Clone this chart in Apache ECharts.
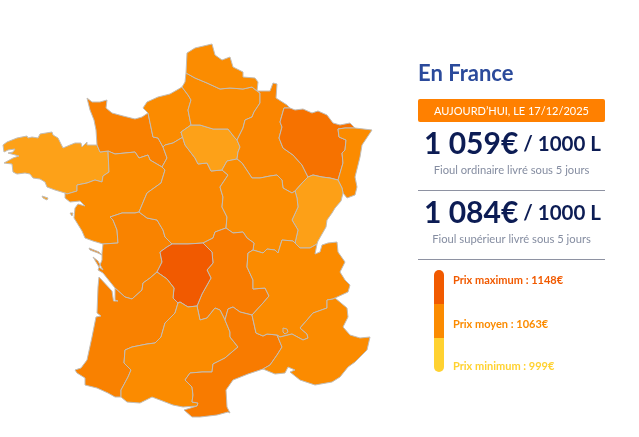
<!DOCTYPE html>
<html>
<head>
<meta charset="utf-8">
<title>Prix du fioul en France</title>
<script src="https://cdn.jsdelivr.net/npm/echarts@6/dist/echarts.min.js"></script>
<style>
  html, body { margin: 0; padding: 0; background: #fff; }
  #main { width: 639px; height: 437px; }
</style>
</head>
<body>
<div id="main"></div>
<script>
// regions and the price read for each one
const regionNames = ['Bretagne', 'Basse-Normandie', 'Haute-Normandie', 'Pays de la Loire', 'Poitou-Charentes', 'Centre',
  'Ile-de-France', 'Picardie', 'Nord-Pas-de-Calais', 'Champagne-Ardenne', 'Lorraine', 'Alsace', 'Franche-Comte',
  'Bourgogne', 'Auvergne', 'Limousin', 'Aquitaine', 'Midi-Pyrenees', 'Languedoc-Roussillon', 'Rhone-Alpes', 'PACA']
const regionPrices = [999, 1090, 1073, 1073, 1085, 1080,
  1000, 1073, 1070, 1082, 1112, 1073, 1001,
  1070, 1098, 1148, 1088, 1073, 1098, 1072, 1072]

const priceMin = 999
const priceMax = 1148
const priceColors = ['#FDA118', '#FB8B00', '#F15A00']

const today = "AUJOURD\u2019HUI, LE 17/12/2025"
const ordinaryPrice = '1 059\u20AC'
const superiorPrice = '1 084\u20AC'
const perVolume = ' / 1000 L'
const ordinaryLabel = 'Fioul ordinaire livré sous 5 jours'
const superiorLabel = 'Fioul supérieur livré sous 5 jours'
const legendLabels = ['Prix maximum : 1148\u20AC', 'Prix moyen : 1063\u20AC', 'Prix minimum : 999\u20AC']
const legendColors = ['#F15A00', '#FB8B00', '#FFD231']

// map outline, cut in shared borders so neighbours line up (map units)
const coastBre = [[97,145],[87,145],[87,142],[82,147],[81,143],[75,143],[70,145],[63,148],[58,138],[53,135],[52,132],[40,134],[38,138],[32,137],[28,138],[27,136],[17,138],[7,142],[3,145],[4,152],[8,150],[15,149],[13,152],[8,153],[19,156],[13,158],[4,163],[12,164],[13,172],[17,174],[25,173],[30,174],[33,178],[40,179],[45,182],[47,187],[55,190],[65,193]]
const brePdl = [[65,193],[67,194],[77,191],[77,185],[87,183],[95,180],[102,182],[103,176],[109,172],[108,151]]
const breBn = [[108,151],[100,152],[97,145]]
const coastBn = [[97,145],[96,130],[94,120],[90,110],[87,98],[92,102],[100,102],[107,100],[106,108],[112,113],[123,116],[135,119],[142,117],[148,113]]
const hnBn = [[148,113],[153,137],[158,138],[163,147]]
const bnCentre = [[163,147],[167,158],[162,167]]
const pdlBn = [[108,151],[115,154],[135,152],[139,158],[148,155],[150,160],[162,167]]
const coastHn = [[148,113],[143,108],[147,102],[158,97],[170,94],[177,90],[182,87]]
const hnPic = [[182,87],[188,95],[191,100],[188,110],[191,125]]
const hnIdf = [[191,125],[181,132]]
const hnCentre = [[181,132],[183,137],[173,143],[165,145],[163,147]]
const coastPdl = [[65,193],[65,198],[70,202],[80,201],[85,206],[78,204],[75,208],[74,218],[82,231],[85,238],[93,241],[103,244]]
const pdlPoitou = [[139,212],[135,213],[122,213],[110,217],[113,220],[117,230],[118,243],[103,244]]
const pdlCentre = [[162,167],[165,170],[161,183],[147,193],[139,212]]
const coastPoitou = [[103,244],[102,253],[102,260],[98,270],[103,273],[115,288]]
const poitouAq = [[157,272],[150,278],[143,283],[142,290],[132,299],[125,297],[115,288]]
const poitouLim = [[172,244],[167,247],[160,252],[162,262],[157,272]]
const poitouCentre = [[139,212],[147,218],[157,220],[163,230],[165,237],[172,244]]
const limTop = [[172,244],[188,244],[203,243]]
const centreAuv = [[203,243],[213,238],[215,232],[226,228]]
const bourgCentre = [[222,170],[228,175],[220,187],[223,197],[222,207],[227,217],[226,228]]
const idfCentre = [[181,132],[185,145],[195,158],[198,164],[207,163],[211,171],[222,170]]
const idfBourg = [[222,170],[227,161],[237,159]]
const champIdf = [[237,140],[240,147],[238,152],[237,159]]
const picIdf = [[191,125],[200,125],[213,129],[228,129],[235,138],[237,140]]
const coastPic = [[186,73],[185,82],[182,87]]
const picChamp = [[257,91],[260,93],[260,103],[254,112],[252,117],[245,120],[243,128],[237,140]]
const npcPic = [[186,73],[195,78],[207,83],[220,89],[230,88],[243,89],[252,87],[257,91]]
const coastNpc = [[186,73],[187,53],[195,48],[212,44],[215,55],[222,60],[230,57],[233,67],[243,72],[243,77],[255,78],[258,82],[257,91]]
const champBourg = [[237,159],[242,163],[252,178],[260,178],[270,176],[277,175],[282,180],[283,188],[292,193],[295,191]]
const champFc = [[295,191],[303,182],[308,177]]
const champLor = [[308,177],[302,165],[293,155],[283,148],[279,138],[282,127],[280,122],[284,108],[290,108]]
const champNorth = [[257,91],[270,91],[273,83],[277,84],[276,98],[287,105],[290,108]]
const lorFc = [[308,177],[313,175],[322,177],[330,178],[338,180]]
const lorAls = [[355,128],[345,128],[338,129],[339,137],[346,140],[345,150],[342,153],[343,163],[338,180]]
const lorNorth = [[290,108],[295,110],[303,109],[312,113],[318,111],[327,115],[333,123],[340,125],[350,123],[355,128]]
const alsFc = [[338,180],[342,188],[343,193]]
const coastAls = [[343,193],[347,198],[355,195],[357,187],[355,177],[360,157],[362,145],[372,130],[355,128]]
const eastFc = [[343,193],[341,201],[335,208],[332,213],[327,220],[326,227],[318,241],[317,244]]
const fcRa = [[295,243],[300,248],[310,248],[317,244]]
const bourgFc = [[295,191],[297,198],[298,207],[292,220],[298,230],[295,243]]
const bourgRa = [[253,250],[263,253],[267,249],[275,250],[278,253],[282,240],[293,241],[295,243]]
const bourgAuv = [[226,228],[233,233],[243,232],[247,238],[254,243],[253,250]]
const auvRa = [[253,250],[248,253],[247,267],[253,280],[253,289],[265,288],[269,296],[263,303],[252,315]]
const auvLr = [[252,315],[240,312],[233,307],[228,309],[225,320]]
const auvMp = [[197,306],[200,320],[207,318],[215,308],[220,310],[225,320]]
const limAuv = [[203,243],[212,252],[213,263],[207,270],[211,278],[202,294],[197,306]]
const limMp = [[197,306],[188,307],[180,302],[178,303]]
const aqLim = [[178,303],[173,298],[174,288],[167,279],[157,272]]
const coastAq = [[115,288],[115,290],[115,300],[118,301],[113.5,301],[112,291],[99,277],[98,287],[97,313],[101,316],[96,317],[92,337],[87,360],[81,368],[75,370],[77,373],[85,378],[85,385],[97,388],[108,393],[115,397],[121,397]]
const aqMp = [[121,397],[121,390],[128,377],[131,370],[124,363],[125,350],[132,347],[147,344],[155,343],[161,337],[165,323],[175,313],[178,303]]
const pyrMp = [[121,397],[127,402],[140,403],[152,397],[160,400],[173,405],[183,407],[197,406]]
const lrMp = [[225,320],[230,332],[230,337],[238,347],[232,352],[225,358],[213,364],[212,372],[202,372],[190,373],[185,380],[192,387],[193,395],[192,402],[198,403],[197,406]]
const coastLr = [[197,406],[184,410],[192,417],[200,417],[217,415],[228,412],[230,413],[227,407],[226,390],[233,380],[248,374],[263,369]]
const lrPaca = [[263,369],[270,365],[277,355],[282,347],[277,335]]
const lrRa = [[277,335],[267,334],[263,336],[256,333],[252,315]]
const alps = [[317,244],[315,254],[320,252],[322,245],[328,243],[337,242],[338,252],[345,262],[340,272],[345,280],[350,285],[348,292],[335,298]]
const raPaca = [[335,298],[333,299],[327,300],[327,308],[313,313],[307,320],[300,328],[307,334],[308,338],[303,340],[292,334],[280,337],[277,335]]
const coastPaca = [[335,298],[347,308],[348,317],[343,327],[350,335],[360,338],[370,337],[367,350],[355,362],[348,367],[340,377],[332,382],[315,385],[300,380],[290,372],[295,370],[288,367],[285,373],[275,374],[263,369]]

// small islands and the enclave
const isleBelle = [[42,196],[48,198],[47,200],[43,198]]
const isleYeu = [[70,213],[73,213],[72,216]]
const isleRe = [[89,248],[99,252],[102,255],[98,253],[90,250]]
const isleOleron = [[93,257],[98,261],[103,270],[99,267]]
const enclave = [[283,328],[287,329],[288,332],[285,334],[283,332]]

const rev = arc => arc.slice().reverse()

const regionRings = [
  [coastBre, brePdl, breBn],
  [coastBn, hnBn, bnCentre, rev(pdlBn), breBn],
  [coastHn, hnPic, hnIdf, hnCentre, rev(hnBn)],
  [coastPdl, rev(pdlPoitou), rev(pdlCentre), rev(pdlBn), rev(brePdl)],
  [pdlPoitou, coastPoitou, rev(poitouAq), rev(poitouLim), rev(poitouCentre)],
  [hnCentre, bnCentre, pdlCentre, poitouCentre, limTop, centreAuv, rev(bourgCentre), rev(idfCentre)],
  [idfCentre, idfBourg, rev(champIdf), rev(picIdf), hnIdf],
  [coastPic, hnPic, picIdf, rev(picChamp), rev(npcPic)],
  [coastNpc, rev(npcPic)],
  [picChamp, champIdf, champBourg, champFc, champLor, rev(champNorth)],
  [rev(champLor), lorFc, rev(lorAls), rev(lorNorth)],
  [lorAls, alsFc, coastAls],
  [champFc, lorFc, alsFc, eastFc, rev(fcRa), rev(bourgFc)],
  [idfBourg, champBourg, bourgFc, rev(bourgRa), rev(bourgAuv), rev(bourgCentre)],
  [centreAuv, bourgAuv, auvRa, auvLr, rev(auvMp), rev(limAuv)],
  [limTop, limAuv, limMp, aqLim, rev(poitouLim)],
  [poitouAq, coastAq, aqMp, aqLim],
  [rev(aqMp), pyrMp, rev(lrMp), rev(auvMp), limMp],
  [lrMp, coastLr, lrPaca, lrRa, auvLr],
  [bourgRa, fcRa, alps, raPaca, lrRa, rev(auvRa)],
  [rev(raPaca), coastPaca, lrPaca]
]

const extraPolygons = {
  'Bretagne': [isleBelle],
  'Pays de la Loire': [isleYeu],
  'Poitou-Charentes': [isleRe, isleOleron],
  'PACA': [enclave]
}

let features = regionNames.map((name, i) => {
  let ring = regionRings[i].reduce((all, arc) => all.concat(arc), [])
  ring.push(ring[0])
  let polygons = [[ring]]
  ;(extraPolygons[name] || []).forEach(p => polygons.push([p.concat([p[0]])]))
  return {
    type: 'Feature',
    properties: {name: name},
    geometry: {type: 'MultiPolygon', coordinates: polygons}
  }
})
echarts.registerMap('france', {type: 'FeatureCollection', features: features})

// the map units are the same as the picture's, so the layout is just its bounding box
let allPoints = features.flatMap(f => f.geometry.coordinates.flat(2))
let mapLeft = Math.min(...allPoints.map(p => p[0]))
let mapRight = Math.max(...allPoints.map(p => p[0]))
let mapTop = Math.min(...allPoints.map(p => p[1]))
let mapBottom = Math.max(...allPoints.map(p => p[1]))

const lato = 'Lato, sans-serif'

function priceBlock(y, price, label) {
  return [
    {
      type: 'text',
      x: 512.5, y: y,
      style: {
        text: `{p|${price}}{v|${perVolume}}`,
        align: 'center', verticalAlign: 'middle',
        rich: {
          p: {fontFamily: 'Lato', fontWeight: 'bold', fontSize: 30, fill: '#0C1C54'},
          v: {fontFamily: 'Lato', fontWeight: 'bold', fontSize: 20.5, fill: '#0C1C54'}
        }
      }
    },
    {
      type: 'text',
      x: 511.5, y: y + 26,
      style: {text: label, font: `11.2px ${lato}`, fill: '#858DA1', align: 'center', verticalAlign: 'middle'}
    }
  ]
}

let graphics = [
  {type: 'text', x: 418, y: 74, style: {text: 'En France', font: `bold 22px ${lato}`, fill: '#2B4A9B', verticalAlign: 'middle'}},
  {type: 'rect', shape: {x: 418, y: 99, width: 187, height: 23, r: 2}, style: {fill: '#FF8000'}},
  {type: 'text', x: 511.5, y: 111, style: {text: today, font: `11px ${lato}`, fill: '#fff', align: 'center', verticalAlign: 'middle'}},
  ...priceBlock(144, ordinaryPrice, ordinaryLabel),
  {type: 'rect', shape: {x: 418, y: 190, width: 187, height: 1}, style: {fill: '#8E92A2'}},
  ...priceBlock(213, superiorPrice, superiorLabel),
  {type: 'rect', shape: {x: 418, y: 259, width: 187, height: 1}, style: {fill: '#8E92A2'}},
  {type: 'rect', shape: {x: 434, y: 270, width: 10, height: 34, r: [5, 5, 0, 0]}, style: {fill: legendColors[0]}},
  {type: 'rect', shape: {x: 434, y: 304, width: 10, height: 34}, style: {fill: legendColors[1]}},
  {type: 'rect', shape: {x: 434, y: 338, width: 10, height: 34, r: [0, 0, 5, 5]}, style: {fill: legendColors[2]}}
]
;[280, 324, 366].forEach((y, i) => {
  graphics.push({
    type: 'text', x: 453, y: y,
    style: {text: legendLabels[i], font: `bold 11px ${lato}`, fill: legendColors[i], verticalAlign: 'middle'}
  })
})

let myChart = echarts.init(document.getElementById('main'), null, {renderer: 'canvas'})
myChart.setOption({
  animation: false,
  backgroundColor: '#fff',
  visualMap: {
    show: false,
    min: priceMin,
    max: priceMax,
    inRange: {color: priceColors}
  },
  series: [
    {
      type: 'map',
      map: 'france',
      projection: {project: p => p, unproject: p => p},
      left: mapLeft,
      top: mapTop,
      width: mapRight - mapLeft,
      height: mapBottom - mapTop,
      roam: false,
      silent: true,
      label: {show: false},
      itemStyle: {borderColor: '#C2BDB6', borderWidth: 1},
      data: regionNames.map((name, i) => ({name: name, value: regionPrices[i]}))
    }
  ],
  graphic: graphics
})
</script>
</body>
</html>
